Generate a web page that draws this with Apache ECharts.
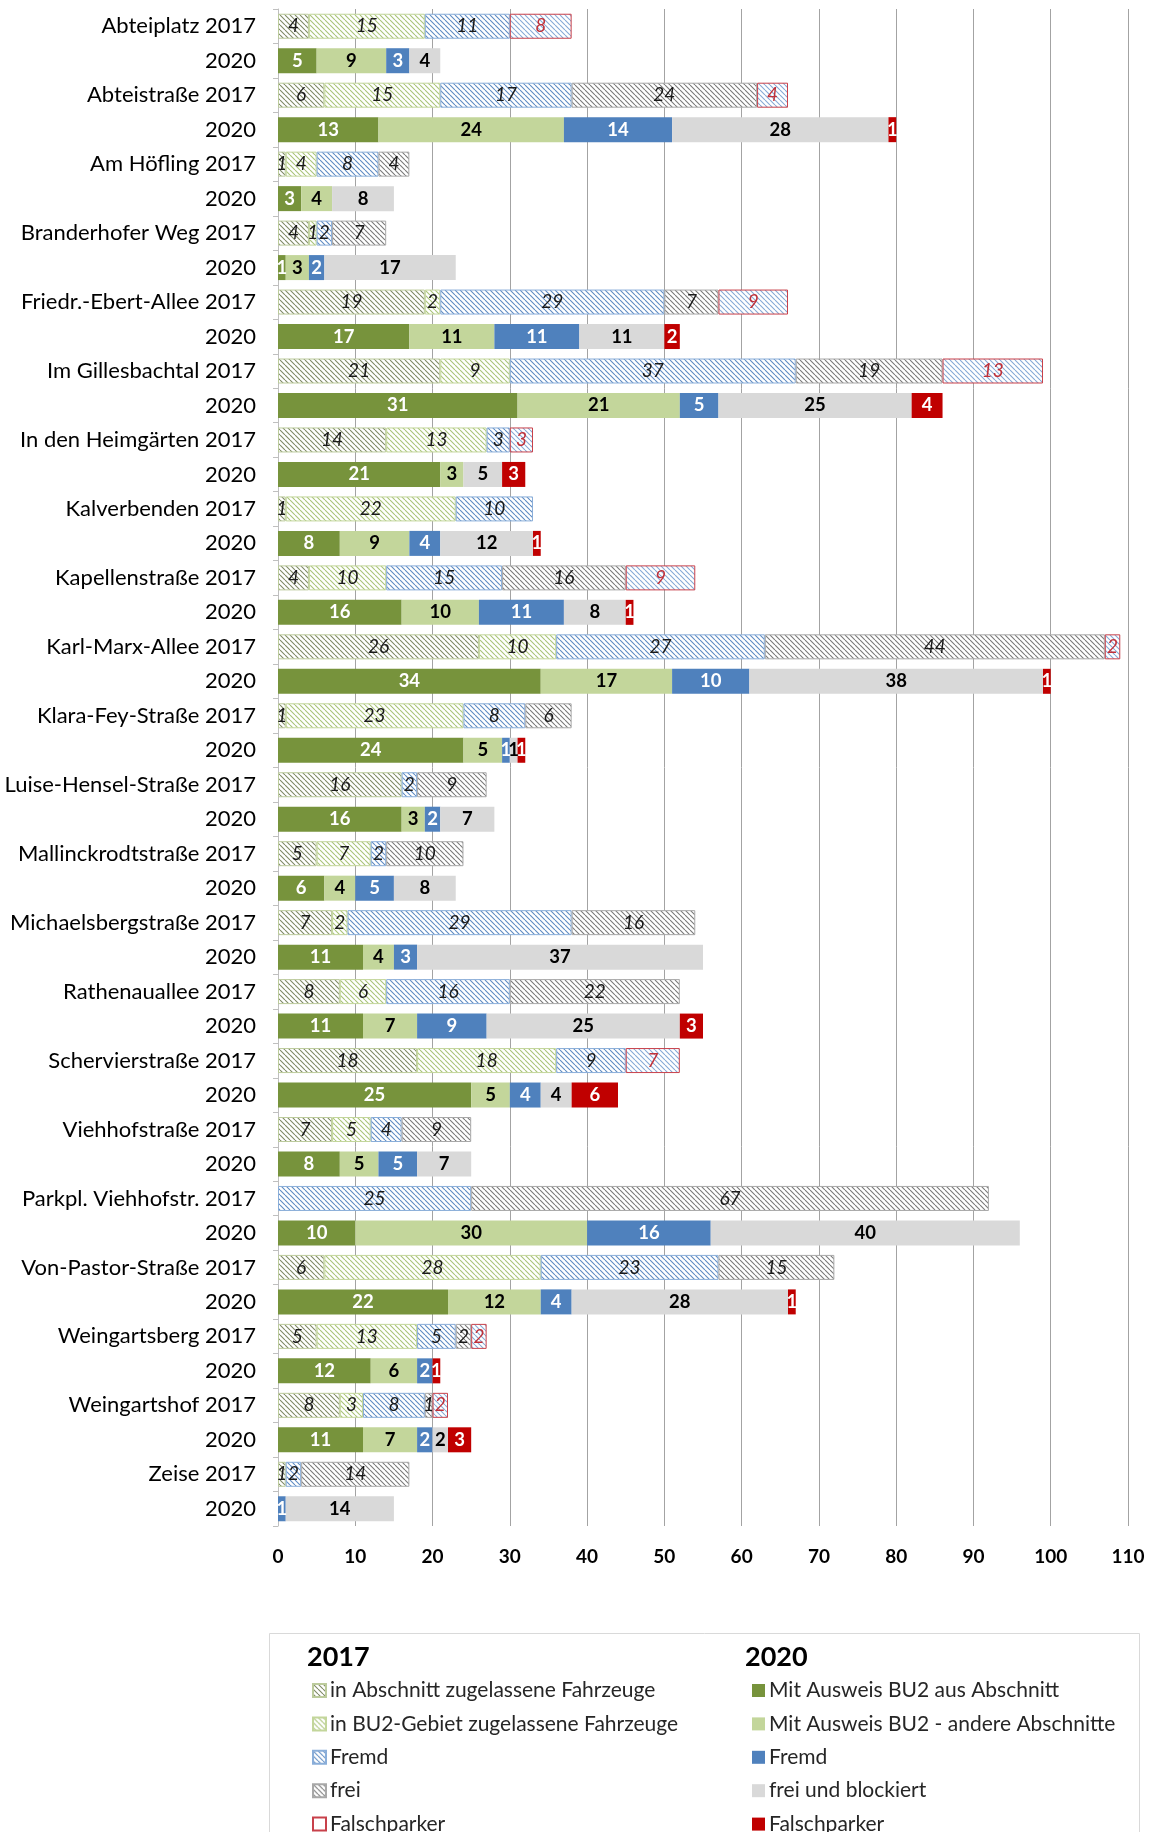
<!DOCTYPE html>
<html>
<head>
<meta charset="utf-8">
<script src="https://cdn.jsdelivr.net/npm/echarts@6/dist/echarts.min.js"></script>
<style>
  html, body { margin: 0; padding: 0; background: #ffffff; }
  #chart { width: 1162px; height: 1832px; }
</style>
</head>
<body>
<div id="chart"></div>
<script>
// Streets of the BU2 parking zone, counted in 2017 and 2020
const streets = [
  'Abteiplatz', 'Abteistraße', 'Am Höfling', 'Branderhofer Weg', 'Friedr.-Ebert-Allee',
  'Im Gillesbachtal', 'In den Heimgärten', 'Kalverbenden', 'Kapellenstraße', 'Karl-Marx-Allee',
  'Klara-Fey-Straße', 'Luise-Hensel-Straße', 'Mallinckrodtstraße', 'Michaelsbergstraße',
  'Rathenauallee', 'Schervierstraße', 'Viehhofstraße', 'Parkpl. Viehhofstr.', 'Von-Pastor-Straße',
  'Weingartsberg', 'Weingartshof', 'Zeise'
];

// 2017 counts (one value per street)
const abschnitt2017 = [4, 6, 1, 4, 19, 21, 14, 1, 4, 26, 1, 16, 5, 7, 8, 18, 7, 0, 6, 5, 8, 1];
const bu2Gebiet2017 = [15, 15, 4, 1, 2, 9, 13, 22, 10, 10, 23, 0, 7, 2, 6, 18, 5, 0, 28, 13, 3, 0];
const fremd2017     = [11, 17, 8, 2, 29, 37, 3, 10, 15, 27, 8, 2, 2, 29, 16, 9, 4, 25, 23, 5, 8, 2];
const frei2017      = [0, 24, 4, 7, 7, 19, 0, 0, 16, 44, 6, 9, 10, 16, 22, 0, 9, 67, 15, 2, 1, 14];
const falsch2017    = [8, 4, 0, 0, 9, 13, 3, 0, 9, 2, 0, 0, 0, 0, 0, 7, 0, 0, 0, 2, 2, 0];

// 2020 counts (one value per street)
const ausweisAbschnitt2020 = [5, 13, 3, 1, 17, 31, 21, 8, 16, 34, 24, 16, 6, 11, 11, 25, 8, 10, 22, 12, 11, 0];
const ausweisAndere2020    = [9, 24, 4, 3, 11, 21, 3, 9, 10, 17, 5, 3, 4, 4, 7, 5, 5, 30, 12, 6, 7, 0];
const fremd2020            = [3, 14, 0, 2, 11, 5, 0, 4, 11, 10, 1, 2, 5, 3, 9, 4, 5, 16, 4, 2, 2, 1];
const freiBlockiert2020    = [4, 28, 8, 17, 11, 25, 5, 12, 8, 38, 1, 7, 8, 37, 25, 4, 7, 40, 28, 0, 2, 14];
const falsch2020           = [0, 1, 0, 0, 2, 4, 3, 1, 1, 1, 1, 0, 0, 0, 3, 6, 0, 0, 1, 1, 3, 0];

// Value axis ticks
const xTicks = [0, 10, 20, 30, 40, 50, 60, 70, 80, 90, 100, 110];

const FONT = 'Lato, "Noto Sans", sans-serif';

// Two rows per street: "<street> 2017" and "<street> 2020"
const categories = streets.flatMap(s => [s + ' 2017', s + ' 2020']);

// Diagonal hatch fill for the 2017 segments
function hatch(lineColor) {
  const s = 5;
  const c = document.createElement('canvas');
  c.width = s; c.height = s;
  const g = c.getContext('2d');
  g.fillStyle = '#ffffff';
  g.fillRect(0, 0, s, s);
  g.strokeStyle = lineColor;
  g.lineWidth = 1.1;
  g.beginPath();
  for (const k of [-s, 0, s]) { g.moveTo(k, 0); g.lineTo(k + s, s); }
  g.stroke();
  return { image: c, repeat: 'repeat' };
}

// Place a per-street array on the rows of one year; zero segments are left out
function rows(values, yearIndex) {
  return categories.map((_, i) =>
    (i % 2 === yearIndex && values[Math.floor(i / 2)]) ? values[Math.floor(i / 2)] : '-');
}

function series2017(label, values, lineColor, border, textColor) {
  return {
    name: label + ' 2017', type: 'bar', stack: 'all', barWidth: 25,
    data: rows(values, 0),
    itemStyle: { color: hatch(lineColor), borderColor: border, borderWidth: 1 },
    label: {
      show: true, position: 'inside', fontFamily: FONT, fontSize: 19,
      fontStyle: 'italic', color: textColor
    },
    emphasis: { disabled: true }
  };
}

function series2020(label, values, color, textColor) {
  return {
    name: label + ' 2020', type: 'bar', stack: 'all', barWidth: 25,
    data: rows(values, 1),
    itemStyle: { color: color },
    label: {
      show: true, position: 'inside', fontFamily: FONT, fontSize: 18.5,
      fontWeight: 'bold', color: textColor
    },
    emphasis: { disabled: true }
  };
}

const series = [
  series2017('in Abschnitt zugelassene Fahrzeuge', abschnitt2017, '#7f8a66', '#bccb9c', '#1a1a1a'),
  series2017('in BU2-Gebiet zugelassene Fahrzeuge', bu2Gebiet2017, '#a9c479', '#c3d69b', '#1a1a1a'),
  series2017('Fremd', fremd2017, '#5f8cc3', '#8aaed9', '#1a1a1a'),
  series2017('frei', frei2017, '#7a7a7a', '#a8a8a8', '#1a1a1a'),
  series2017('Falschparker', falsch2017, '#86a9d6', '#c8414b', '#c0313a'),
  series2020('Mit Ausweis BU2 aus Abschnitt', ausweisAbschnitt2020, '#77933c', '#ffffff'),
  series2020('Mit Ausweis BU2 - andere Abschnitte', ausweisAndere2020, '#c3d69b', '#000000'),
  series2020('Fremd', fremd2020, '#4f81bd', '#ffffff'),
  series2020('frei und blockiert', freiBlockiert2020, '#d9d9d9', '#000000'),
  series2020('Falschparker', falsch2020, '#c00000', '#ffffff')
];

const names2017 = series.slice(0, 5).map(s => s.name);
const names2020 = series.slice(5).map(s => s.name);

const legendBase = {
  orient: 'vertical', top: 1675, height: 300, itemWidth: 13, itemHeight: 13, itemGap: 12.4,
  icon: 'rect', selectedMode: false,
  formatter: n => n.replace(/ (2017|2020)$/, ''),
  textStyle: { fontFamily: FONT, fontSize: 21, lineHeight: 20, color: '#262626', padding: [0, 0, 0, -1] }
};

const chart = echarts.init(document.getElementById('chart'), null, { renderer: 'canvas' });
chart.setOption({
  animation: false,
  backgroundColor: '#ffffff',
  grid: { left: 278, right: 34, top: 9, height: 1517, containLabel: false },
  xAxis: {
    type: 'value', min: xTicks[0], max: xTicks[xTicks.length - 1], interval: 10,
    axisLine: { show: false }, axisTick: { show: false },
    splitLine: { show: true, lineStyle: { color: '#a3a3a3', width: 1 } },
    axisLabel: { fontFamily: FONT, fontSize: 19, fontWeight: 'bold', color: '#000000', margin: 21 }
  },
  yAxis: {
    type: 'category', inverse: true, data: categories,
    axisLine: { show: true, lineStyle: { color: '#bfbfbf' } },
    axisTick: { show: true, length: 5, lineStyle: { color: '#bfbfbf' } },
    axisLabel: {
      fontFamily: FONT, fontSize: 22, color: '#000000', margin: 22, interval: 0,
      formatter: (v, i) => (i % 2 === 1 ? '2020' : v)
    }
  },
  legend: [
    Object.assign({}, legendBase, {
      left: 307,
      data: names2017.map((n, i) => i === 4 ? { name: n, itemStyle: { color: '#ffffff' } } : { name: n })
    }),
    Object.assign({}, legendBase, { left: 747, data: names2020 })
  ],
  graphic: [
    { type: 'rect', silent: true, shape: { x: 269.5, y: 1633.5, width: 870, height: 230 },
      style: { fill: 'none', stroke: '#d9d9d9', lineWidth: 1 } },
    { type: 'text', silent: true, left: 307, top: 1644,
      style: { text: '2017', fontFamily: FONT, fontSize: 27, fontWeight: 'bold', fill: '#000000' } },
    { type: 'text', silent: true, left: 745, top: 1644,
      style: { text: '2020', fontFamily: FONT, fontSize: 27, fontWeight: 'bold', fill: '#000000' } }
  ],
  series: series
});
</script>
</body>
</html>
